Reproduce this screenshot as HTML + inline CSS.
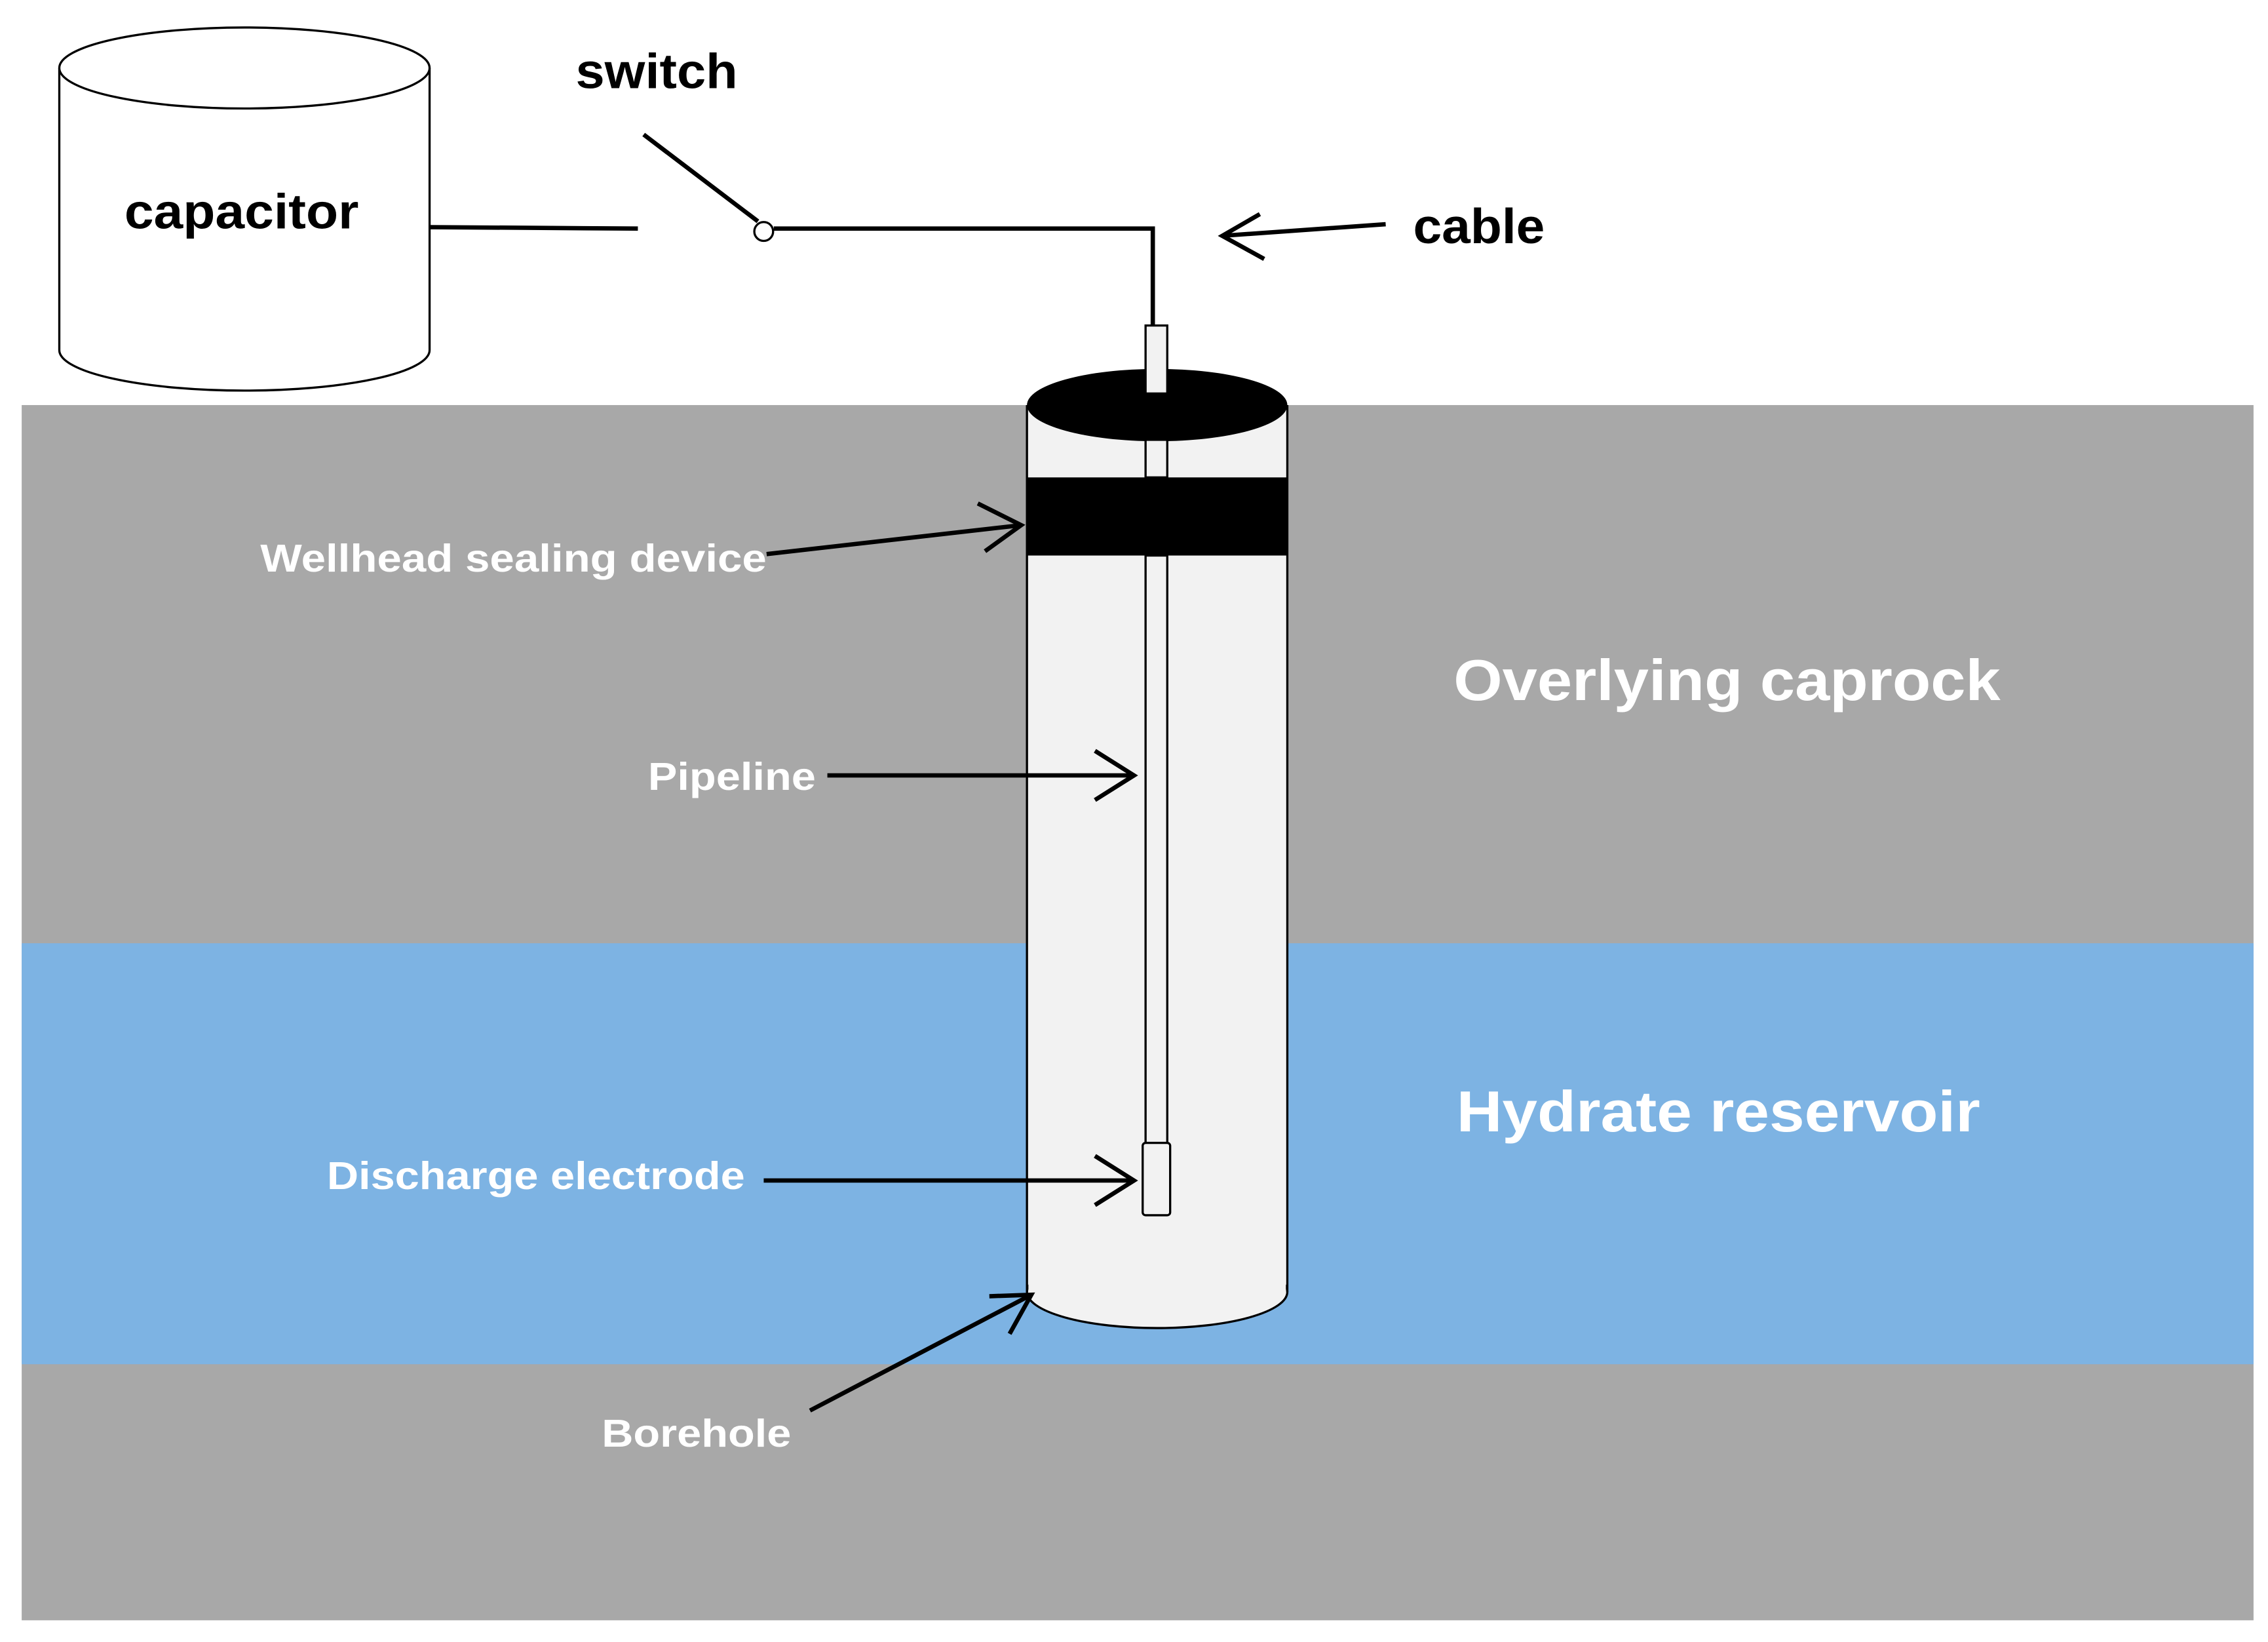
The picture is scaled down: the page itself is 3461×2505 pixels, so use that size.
<!DOCTYPE html>
<html><head><meta charset="utf-8"><style>
html,body{margin:0;padding:0;background:#fff;}
svg{display:block;}
text{font-family:"Liberation Sans",sans-serif;font-weight:bold;}
</style></head><body>
<svg width="3461" height="2505" viewBox="0 0 1568 1135" preserveAspectRatio="none" xmlns="http://www.w3.org/2000/svg">
<rect x="0" y="0" width="1568" height="1135" fill="#fff"/>
<rect x="15" y="280" width="1543" height="840" fill="#a8a8a8"/>
<rect x="15" y="652" width="1543" height="291" fill="#7db3e3"/>

<!-- capacitor -->
<path d="M41,47 L41,242 A128,28 0 0 0 297,242 L297,47" fill="#fff" stroke="#000" stroke-width="1.5"/>
<ellipse cx="169" cy="47" rx="128" ry="28" fill="#fff" stroke="#000" stroke-width="1.5"/>
<text x="167" y="158" font-size="34" text-anchor="middle" textLength="162" lengthAdjust="spacingAndGlyphs">capacitor</text>

<!-- wiring -->
<line x1="297" y1="157" x2="441" y2="158" stroke="#000" stroke-width="3"/>
<line x1="445" y1="93" x2="524" y2="153" stroke="#000" stroke-width="3"/>
<circle cx="528" cy="160" r="6.5" fill="#fff" stroke="#000" stroke-width="1.5"/>
<polyline points="535,158 797,158 797,226" fill="none" stroke="#000" stroke-width="3"/>
<text x="398" y="61" font-size="34" textLength="112" lengthAdjust="spacingAndGlyphs">switch</text>
<text x="977" y="168" font-size="34" textLength="91" lengthAdjust="spacingAndGlyphs">cable</text>
<line x1="958" y1="155" x2="845" y2="163" stroke="#000" stroke-width="3"/>
<polyline points="871,148 845,163 874,179" fill="none" stroke="#000" stroke-width="3"/>

<!-- borehole -->
<rect x="710" y="280" width="180" height="613" fill="#f2f2f2"/>
<ellipse cx="800" cy="893" rx="90" ry="25" fill="#f2f2f2" stroke="#000" stroke-width="1.5"/>
<rect x="711" y="280" width="178" height="613" fill="#f2f2f2"/>
<line x1="710" y1="280" x2="710" y2="893" stroke="#000" stroke-width="1.5"/>
<line x1="890" y1="280" x2="890" y2="893" stroke="#000" stroke-width="1.5"/>
<rect x="710" y="330" width="180" height="54" fill="#000"/>
<ellipse cx="800" cy="280" rx="90" ry="25" fill="#000"/>
<!-- pipe -->
<rect x="792" y="304" width="15" height="26" fill="#f2f2f2" stroke="#000" stroke-width="1.5"/>
<rect x="792" y="384" width="15" height="408" fill="#f2f2f2" stroke="#000" stroke-width="1.5"/>
<rect x="792" y="225" width="15" height="47" fill="#f2f2f2" stroke="#000" stroke-width="1.5"/>
<rect x="790" y="790" width="19" height="50" rx="2" fill="#f2f2f2" stroke="#000" stroke-width="1.5"/>

<!-- labels & arrows -->
<g stroke="#000" stroke-width="3" fill="none">
<line x1="530" y1="383" x2="706" y2="363"/>
<polyline points="676,348 706,363 681,381"/>
<line x1="572" y1="536" x2="784" y2="536"/>
<polyline points="757,519 784,536 757,553"/>
<line x1="528" y1="816" x2="784" y2="816"/>
<polyline points="757,799 784,816 757,833"/>
<line x1="560" y1="975" x2="713" y2="895"/>
<polyline points="684,896 713,895 698,922"/>
</g>
<g fill="#fff">
<text x="180" y="395" font-size="27" textLength="350" lengthAdjust="spacingAndGlyphs">Wellhead sealing device</text>
<text x="448" y="546" font-size="27" textLength="116" lengthAdjust="spacingAndGlyphs">Pipeline</text>
<text x="226" y="822" font-size="27" textLength="289" lengthAdjust="spacingAndGlyphs">Discharge electrode</text>
<text x="416" y="1000" font-size="27" textLength="131" lengthAdjust="spacingAndGlyphs">Borehole</text>
<text x="1005" y="484" font-size="40" textLength="378" lengthAdjust="spacingAndGlyphs">Overlying caprock</text>
<text x="1007" y="782" font-size="40" textLength="362" lengthAdjust="spacingAndGlyphs">Hydrate reservoir</text>
</g>
</svg>
</body></html>
